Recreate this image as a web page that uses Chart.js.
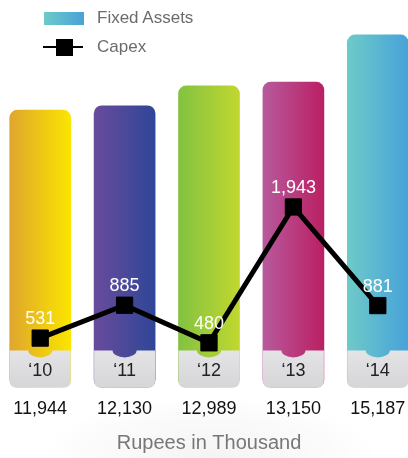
<!DOCTYPE html>
<html>
<head>
  <meta charset="UTF-8" />
  <title>Fixed Assets and Capex</title>
  <script src="https://cdn.jsdelivr.net/npm/chart.js"></script>
  <style>
    html, body {
      margin: 0;
      padding: 0;
      background: #fff;
      overflow: hidden;
    }
    body {
      width: 408px;
      height: 458px;
      position: relative;
      font-family: "Liberation Sans", Arial, sans-serif;
    }
    .haze {
      position: absolute;
      left: 40px;
      top: 395px;
      width: 340px;
      height: 110px;
      background: radial-gradient(ellipse at 50% 55%, rgba(0,0,0,0.045) 0%, rgba(0,0,0,0.02) 45%, rgba(0,0,0,0) 70%);
    }
    .chart-box {
      position: absolute;
      left: -2px;
      top: 0;
      width: 422px;
      height: 458px;
    }
    .legend-item {
      position: absolute;
      left: 97px;
      font-size: 17px;
      line-height: 20px;
      color: #6b6b6b;
    }
    .swatch {
      position: absolute;
      left: 44px;
      top: 12px;
      width: 40px;
      height: 13px;
      background: linear-gradient(to right, #6ecac8, #47a2d9);
    }
    .capex-line {
      position: absolute;
      left: 43px;
      top: 46px;
      width: 40px;
      height: 2px;
      background: #000;
    }
    .capex-mark {
      position: absolute;
      left: 56px;
      top: 39px;
      width: 17px;
      height: 17px;
      background: #000;
    }
  </style>
</head>
<body>
  <div class="haze"></div>
  <div class="chart-box">
    <canvas id="assetsChart"></canvas>
  </div>
  <span class="swatch"></span>
  <span class="legend-item" style="top:8px">Fixed Assets</span>
  <span class="capex-line"></span>
  <span class="capex-mark"></span>
  <span class="legend-item" style="top:37px">Capex</span>

  <script>
    const categories = ['\u201810', '\u201811', '\u201812', '\u201813', '\u201814'];
    const fixedAssets = [11944, 12130, 12989, 13150, 15187];
    const capex = [531, 885, 480, 1943, 881];
    const barColorsLeft = ['#dfa62d', '#694b9c', '#83c242', '#b75a9d', '#6ecac8'];
    const barColorsRight = ['#fbe500', '#2f4697', '#c1d72f', '#bb1f63', '#47a2d9'];

    const BAR_WIDTH = 61;
    const fmt = v => v.toLocaleString('en-US');

    // grey footer on every bar, with the year inside it
    const barFooters = {
      id: 'barFooters',
      afterDatasetDraw(chart, args) {
        if (args.index !== 0) return;
        const ctx = chart.ctx;
        const meta = chart.getDatasetMeta(0);
        const bottom = chart.chartArea.bottom;
        const top = bottom - 37;
        meta.data.forEach((bar, i) => {
          const cx = bar.x;
          const left = cx - BAR_WIDTH / 2;
          const right = cx + BAR_WIDTH / 2;
          const r = 7;
          ctx.save();
          ctx.beginPath();
          ctx.moveTo(left, top);
          ctx.lineTo(cx - 12, top);
          ctx.ellipse(cx, top, 12, 7, 0, Math.PI, 0, true);
          ctx.lineTo(right, top);
          ctx.lineTo(right, bottom - r);
          ctx.quadraticCurveTo(right, bottom, right - r, bottom);
          ctx.lineTo(left + r, bottom);
          ctx.quadraticCurveTo(left, bottom, left, bottom - r);
          ctx.closePath();
          const g = ctx.createLinearGradient(0, top, 0, bottom);
          g.addColorStop(0, '#e4e4e6');
          g.addColorStop(1, '#d6d6d8');
          ctx.fillStyle = g;
          ctx.fill();
          ctx.fillStyle = '#222';
          ctx.font = '18px "Liberation Sans", Arial, sans-serif';
          ctx.textAlign = 'center';
          ctx.textBaseline = 'middle';
          ctx.fillText(categories[i], cx, top + 21);
          ctx.restore();
        });
      }
    };

    // white capex values above the markers
    const capexLabels = {
      id: 'capexLabels',
      afterDatasetsDraw(chart) {
        const ctx = chart.ctx;
        const meta = chart.getDatasetMeta(1);
        ctx.save();
        ctx.fillStyle = '#fff';
        ctx.font = '18px "Liberation Sans", Arial, sans-serif';
        ctx.textAlign = 'center';
        ctx.textBaseline = 'middle';
        meta.data.forEach((pt, i) => {
          ctx.fillText(fmt(capex[i]), pt.x, pt.y - 19);
        });
        ctx.restore();
      }
    };

    const ctx = document.getElementById('assetsChart').getContext('2d');
    new Chart(ctx, {
      data: {
        labels: categories,
        datasets: [{
          type: 'bar',
          label: 'Fixed Assets',
          data: fixedAssets,
          order: 1,
          barThickness: BAR_WIDTH,
          borderRadius: 8,
          borderSkipped: false,
          backgroundColor: c => {
            const i = c.dataIndex;
            const chart = c.chart;
            if (!chart.chartArea || !chart.scales.x) return barColorsRight[i];
            const x = chart.scales.x.getPixelForValue(i);
            const g = chart.ctx.createLinearGradient(x - BAR_WIDTH / 2, 0, x + BAR_WIDTH / 2, 0);
            g.addColorStop(0, barColorsLeft[i]);
            g.addColorStop(1, barColorsRight[i]);
            return g;
          },
          yAxisID: 'y'
        }, {
          type: 'line',
          label: 'Capex',
          data: capex,
          order: 0,
          borderColor: '#000',
          borderWidth: 5,
          tension: 0,
          pointStyle: 'rect',
          pointRadius: 11.5,
          pointBackgroundColor: '#000',
          pointBorderColor: '#000',
          pointBorderWidth: 1,
          yAxisID: 'y2'
        }]
      },
      options: {
        responsive: true,
        maintainAspectRatio: false,
        animation: false,
        layout: { autoPadding: false, padding: { top: 16, left: 0, right: 0, bottom: 0 } },
        plugins: {
          legend: { display: false },
          tooltip: { enabled: false }
        },
        scales: {
          x: {
            grid: { display: false, drawTicks: false },
            border: { display: false },
            ticks: {
              padding: 11,
              color: '#111',
              font: { family: '"Liberation Sans", Arial, sans-serif', size: 18 },
              callback: (v, i) => fmt(fixedAssets[i])
            },
            title: {
              display: true,
              text: 'Rupees in Thousand',
              color: '#777',
              font: { family: '"Liberation Sans", Arial, sans-serif', size: 20 },
              padding: { top: 0, bottom: 3 }
            }
          },
          y: { display: false, min: 0, max: 16000 },
          y2: { display: false, min: 0, max: 4000, position: 'right' }
        }
      },
      plugins: [barFooters, capexLabels]
    });
  </script>
</body>
</html>
